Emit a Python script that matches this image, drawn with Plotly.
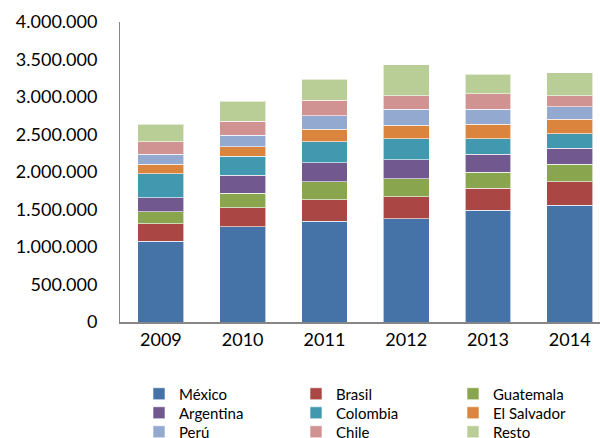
import plotly.graph_objects as go

years = ["2009", "2010", "2011", "2012", "2013", "2014"]
mexico = [1080000, 1271000, 1342000, 1377000, 1489000, 1556000]
brasil = [231000, 253000, 289000, 294000, 293000, 315000]
guatemala = [156000, 196000, 240000, 240000, 218000, 231000]
argentina = [190000, 236000, 253000, 253000, 236000, 214000]
colombia = [320000, 253000, 280000, 280000, 208000, 195000]
el_salvador = [125000, 128000, 169000, 178000, 196000, 191000]
peru = [133000, 152000, 174000, 214000, 196000, 169000]
chile = [168000, 191000, 213000, 182000, 208000, 147000]
resto = [236000, 262000, 280000, 413000, 258000, 306000]

series = [
    ("México", mexico, "#4572A7", "legend"),
    ("Brasil", brasil, "#AA4643", "legend"),
    ("Guatemala", guatemala, "#89A54E", "legend"),
    ("Argentina", argentina, "#71588F", "legend2"),
    ("Colombia", colombia, "#4198AF", "legend2"),
    ("El Salvador", el_salvador, "#DB843D", "legend2"),
    ("Perú", peru, "#93A9CF", "legend3"),
    ("Chile", chile, "#D19392", "legend3"),
    ("Resto", resto, "#B9CD96", "legend3"),
]

fig = go.Figure()
for name, vals, color, leg in series:
    fig.add_trace(go.Bar(
        x=years, y=vals, name=name, legend=leg,
        marker=dict(color=color, line=dict(color="rgba(255,255,255,0.6)", width=1)),
    ))

font = "Lato, 'Open Sans', sans-serif"

def legend_row(ycenter):
    return dict(
        orientation="h", traceorder="normal",
        xref="container", yref="container",
        x=139 / 600, y=1 - ycenter / 438, xanchor="left", yanchor="middle",
        entrywidth=112, font=dict(size=15, family=font),
        itemwidth=30, tracegroupgap=0,
        bgcolor="rgba(0,0,0,0)",
    )

fig.update_layout(
    width=600, height=438,
    barmode="stack", bargap=0.44,
    paper_bgcolor="white", plot_bgcolor="white",
    margin=dict(l=120, r=0, t=22, b=116),
    font=dict(family=font, size=18, color="black"),
    showlegend=True,
    legend=legend_row(394),
    legend2=legend_row(413),
    legend3=legend_row(432),
    xaxis=dict(
        range=[-0.5, 5.37], showline=True, linecolor="#868686", linewidth=2,
        showgrid=False, ticks="", tickfont=dict(size=18),
    ),
    yaxis=dict(
        range=[0, 4000000], dtick=500000, showline=True, linecolor="#868686", linewidth=1,
        showgrid=False, zeroline=False, ticks="", tickformat=",d",
        separatethousands=True, ticklabelstandoff=18, tickfont=dict(size=18),
    ),
    separators=",.",
)

fig.write_html("out.html")
